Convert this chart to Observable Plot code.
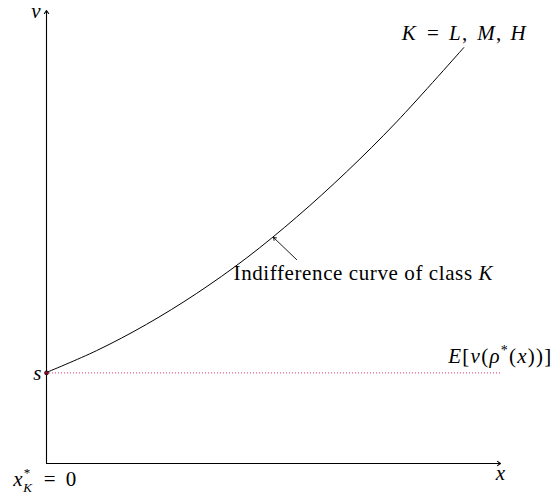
<!DOCTYPE html>
<html><head><meta charset="utf-8">
<script src="https://cdn.jsdelivr.net/npm/d3@7"></script>
<script src="https://cdn.jsdelivr.net/npm/@observablehq/plot@0.6"></script>
<style>
html,body{margin:0;padding:0;background:#fff;}
</style>
</head><body>
<div id="chart"></div>
<script>
// Indifference curve points (axis units 0..10)
const curveX = [0, 1.10, 2.20, 3.30, 4.41, 5.51, 6.61, 7.71, 9.19];
const curveY = [2.01, 2.49, 3.07, 3.75, 4.54, 5.44, 6.44, 7.54, 9.18];
const sValue = 2.0;
const xMax = 10;
const yMax = 10;
// annotation arrow (label -> curve)
const noteArrow = [{x1: 5.51, y1: 4.50, x2: 5.00, y2: 4.99}];
// labels
const labelsEnd = [{x: -0.13, y: 9.98, text: "v"}, {x: -0.11, y: 2.0, text: "s"}];
const labelsStart = [
  {x: 4.12, y: 4.19, text: "Indifference curve of class K"},
  {x: 8.85, y: 2.36, text: "E[v(ρ*(x))]"},
  {x: -0.73, y: -0.35, text: "x*K = 0"}
];
const labelsMid = [
  {x: 9.19, y: 9.49, text: "K = L, M, H"},
  {x: 10.0, y: -0.22, text: "x"}
];

const curve = curveX.map((x, i) => ({x, y: curveY[i]}));
const FONT = "Liberation Serif";
const FS = 21;

const chart = Plot.plot({
  width: 554,
  height: 496,
  marginLeft: 46,
  marginRight: 54,
  marginTop: 10,
  marginBottom: 33,
  x: {domain: [0, xMax], axis: null},
  y: {domain: [0, yMax], axis: null},
  style: {fontFamily: FONT, background: "#fff", overflow: "visible"},
  marks: [
    Plot.arrow([{x1: 0, y1: 0, x2: 0, y2: yMax}, {x1: 0, y1: 0, x2: xMax, y2: 0}],
      {x1: "x1", y1: "y1", x2: "x2", y2: "y2", stroke: "#000", strokeWidth: 1.1, headLength: 5, headAngle: 70}),
    Plot.ruleY([sValue], {x1: 0, x2: xMax, stroke: "#e0356a", strokeWidth: 1, strokeDasharray: "1,2"}),
    Plot.line(curve, {x: "x", y: "y", curve: "catmull-rom", stroke: "#000", strokeWidth: 1}),
    Plot.arrow(noteArrow, {x1: "x1", y1: "y1", x2: "x2", y2: "y2", stroke: "#000", strokeWidth: 0.9, headLength: 5, headAngle: 70}),
    Plot.dot([{x: 0, y: sValue}], {x: "x", y: "y", r: 2, fill: "#8a0a28", stroke: "#000", strokeWidth: 0.6}),
    Plot.text(labelsEnd, {x: "x", y: "y", text: "text", textAnchor: "end", fontSize: FS, fontStyle: "italic", fill: "#000"}),
    Plot.text(labelsStart, {x: "x", y: "y", text: "text", textAnchor: "start", fontSize: FS, fill: "#000"}),
    Plot.text(labelsMid, {x: "x", y: "y", text: "text", textAnchor: "middle", fontSize: FS, fill: "#000"})
  ]
});

// Rich math formatting for labels (italic variables, super/subscripts)
// [text, italic, dy, fontSize, dx]
const rich = {
  "K = L, M, H": [["K",1],["=",0,0,0,10],["L",1,0,0,9],[",",0],["M",1,0,0,9],[",",0],["H",1,0,0,8]],
  "x": [["x",1]],
  "Indifference curve of class K": [["Indifference curve of class ",0],["K",1]],
  "E[v(ρ*(x))]": [["E",1],["[",0],["v",1],["(",0],["ρ",1],["*",0,-8,14],["(",0,8],["x",1],["))]",0]],
  "x*K = 0": [["x",1],["*",0,-9,13,1],["K",1,15,13,-7],["=",0,-6,0,12],["0",0,0,0,10]]
};
// widths of the labels as they appear in the picture
const widths = {
  "K = L, M, H": 124,
  "Indifference curve of class K": 259,
  "E[v(ρ*(x))]": 103
};
d3.select(chart).selectAll("text").each(function() {
  const el = d3.select(this);
  const key = this.textContent;
  const segs = rich[key];
  if (!segs) return;
  el.text(null);
  for (const [t, it, dy, size, dx] of segs) {
    const ts = el.append("tspan").text(t);
    if (it) ts.attr("font-style", "italic");
    if (dy) ts.attr("dy", dy);
    if (size) ts.attr("font-size", size);
    if (dx) ts.attr("dx", dx);
  }
  if (widths[key]) el.attr("textLength", widths[key]).attr("lengthAdjust", "spacing");
});

document.getElementById("chart").appendChild(chart);
</script>
</body></html>
